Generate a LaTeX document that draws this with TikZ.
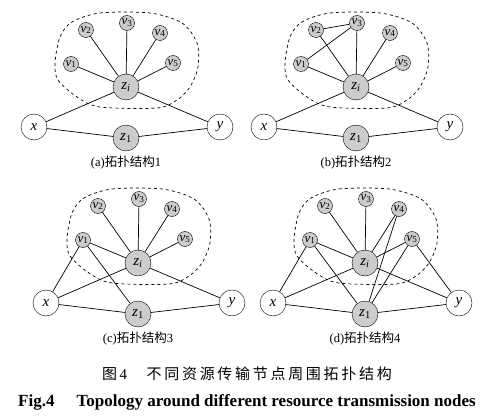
\documentclass[tikz,border=0pt]{standalone}
\usepackage{fontspec}
\setmainfont{Liberation Serif}
\newfontfamily\cjk{Noto Sans CJK SC}
\newfontfamily\cjkwide[LetterSpace=18]{Noto Sans CJK SC}
\usepackage{tikz}
\definecolor{Relleno}{gray}{0.80}

\begin{document}
\begin{tikzpicture}[
  x=1pt,y=-1pt,
  vnodo/.style={circle,draw,fill=Relleno,minimum size=15pt,inner sep=0pt,font=\fontsize{13}{13}\selectfont\itshape},
  znodo/.style={circle,draw,fill=Relleno,minimum size=26pt,inner sep=0pt,font=\fontsize{15}{15}\selectfont\itshape},
  extremo/.style={znodo,fill=white},
  enlace/.style={line width=0.7pt},
  zona/.style={dashed,line width=0.7pt}
]
  \useasboundingbox (0,0) rectangle (490,420);
  % one sub-figure per entry: name / centre of z_i / number
  \foreach \p/\cx/\cy/\n in {a/126/87/1,b/356/87/2,c/138/263/3,d/365/263/4}{
    \begin{scope}[shift={(\cx,\cy)}]
      \draw[zona] plot[smooth cycle] coordinates {(-54,-65) (-26,-74) (24,-74) (56,-64) (71,-44)
        (72,-20) (64,0) (51,13) (31,21) (-26,20) (-49,10) (-68,-7) (-71,-24) (-66,-50)};
      \node[znodo] (\p zi) at (0,0) {z\textsubscript{i}};
      \node[vnodo] (\p v1) at (-55,-23) {v\textsubscript{\upshape 1}};
      \node[vnodo] (\p v2) at (-40,-57) {v\textsubscript{\upshape 2}};
      \node[vnodo] (\p v3) at (1,-64) {v\textsubscript{\upshape 3}};
      \node[vnodo] (\p v4) at (34,-54) {v\textsubscript{\upshape 4}};
      \node[vnodo] (\p v5) at (47,-24) {v\textsubscript{\upshape 5}};
      \node[extremo] (\p x) at (-92,40) {x};
      \node[extremo] (\p y) at (94,40) {y};
      \node[znodo] (\p z1) at (0,51) {z\textsubscript{\upshape 1}};
      \node[font=\fontsize{12.5}{13}\selectfont] (\p cap) at (0,76) {(\p){\cjk 拓扑结构}\n};
      \foreach \v in {v1,v2,v3,v4,v5,x,y}
        \draw[enlace] (\p zi) -- (\p\v);
      \draw[enlace] (\p x) -- (\p z1) -- (\p y);
    \end{scope}
  }
  % extra links
  \draw[enlace] (bv1) -- (bv3) -- (bv2);
  \draw[enlace] (cx) -- (cv1) -- (cz1);
  \draw[enlace] (dx) -- (dv1) -- (dz1);
  \draw[enlace] (dv4) -- (dz1) -- (dv5) -- (dy);

  \node[font=\fontsize{15}{15}\selectfont] (titulo) at (247,374)
    {{\cjk 图}\,4\hspace{1.3em}{\cjkwide 不同资源传输节点周围拓扑结构}};
  \node[font=\fontsize{17}{17}\selectfont\bfseries] (title) at (247,402)
    {Fig.4\hspace{1.3em}Topology around different resource transmission nodes};
\end{tikzpicture}
\end{document}
